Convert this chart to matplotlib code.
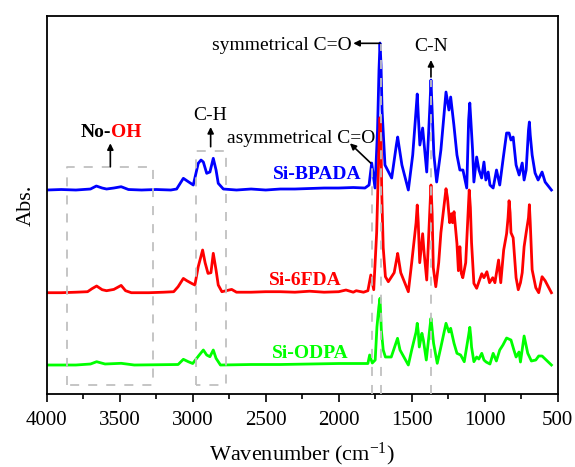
import matplotlib
matplotlib.use('Agg')
import matplotlib.pyplot as plt

plt.rcParams['font.family'] = ['Liberation Serif', 'DejaVu Serif']
plt.rcParams['mathtext.default'] = 'regular'

# ---------------- data (arbitrary absorbance units) ----------------
bpada_wn = [4000, 3900, 3800, 3700, 3660, 3620, 3590, 3540, 3490, 3440,
            3350, 3250, 3150, 3110, 3064, 3030, 2996, 2962, 2943, 2927,
            2904, 2882, 2859, 2840, 2825, 2790, 2700, 2600, 2500, 2400,
            2300, 2200, 2100, 2000, 1900, 1820, 1792, 1774, 1751, 1734,
            1724, 1717, 1710, 1703, 1683, 1637, 1605, 1596, 1588, 1567,
            1523, 1493, 1470, 1462, 1455, 1444, 1425, 1397, 1375, 1368,
            1360, 1348, 1329, 1300, 1265, 1245, 1233, 1211, 1190, 1170,
            1149, 1123, 1110, 1102, 1095, 1083, 1074, 1055, 1039, 1021,
            1005, 992, 976, 964, 942, 919, 897, 873, 850, 833,
            820, 805, 785, 764, 743, 730, 716, 700, 694, 688,
            675, 655, 634, 607, 586, 543]
bpada_abs = [0, 0.5, 0, 1, 4, 2, 1, 2, 3.3, 0.5,
             0, 0.5, 0, 1, 11.7, 8.3, 5, 26.7, 30, 28,
             16.7, 18, 31.7, 20, 6.7, 1, 0, 1, 0, 1,
             1, 1.5, 2, 2, 2.5, 2, 5, 27, 2, 60,
             120, 147, 125, 80, 25, 12, 45, 53, 45, 25,
             0, 35, 80, 96, 75, 45, 62, 18, 85, 110,
             80, 35, 8, 40, 98, 80, 93, 65, 35, 20,
             20, 2, 70, 87, 70, 40, 8, 33, 20, 12,
             28, 10, 18, 5, 2, 20, 5, 32, 57, 57,
             50, 53, 25, 15, 27, 10, 20, 60, 68, 55,
             35, 17, 10, 18, 8, 0]

fda6_wn = [4000, 3900, 3800, 3720, 3690, 3658, 3620, 3590, 3540, 3490,
           3460, 3420, 3300, 3200, 3130, 3100, 3064, 3040, 3007, 2985,
           2962, 2932, 2915, 2895, 2875, 2859, 2840, 2825, 2800, 2733,
           2700, 2600, 2500, 2400, 2300, 2200, 2100, 2000, 1950, 1900,
           1880, 1830, 1800, 1780, 1760, 1740, 1725, 1717, 1710, 1705,
           1695, 1680, 1660, 1620, 1605, 1596, 1588, 1575, 1523, 1500,
           1470, 1462, 1455, 1445, 1425, 1415, 1397, 1375, 1368, 1360,
           1352, 1335, 1315, 1300, 1265, 1255, 1240, 1228, 1220, 1210,
           1190, 1180, 1170, 1160, 1150, 1130, 1112, 1106, 1098, 1090,
           1074, 1055, 1020, 1005, 985, 967, 945, 930, 905, 890,
           870, 850, 840, 833, 826, 820, 805, 785, 770, 755,
           743, 730, 716, 700, 694, 688, 675, 650, 630, 607,
           586, 543]
fda6_abs = [0, 0, 0.5, 1, 4, 6.7, 3, 2, 3.3, 7.3,
            2, 0, 0, 0.5, 1, 6, 14.3, 12, 9.3, 7.7,
            26, 42.7, 30, 19.3, 20, 39.4, 22.7, 7.7, 1, 3.3,
            0.5, 0.5, 1, 1, 0.5, 1.5, 0.5, 1, 2.7, 0.5,
            2, 0.5, 2, 17.7, 3, 60, 140, 175, 150, 100,
            45, 16, 11, 20, 32, 39.3, 32, 20, 1, 30,
            70, 87.7, 70, 30, 59, 40, 12.7, 85, 107.7, 80,
            25, 6, 30, 60, 104, 95, 70, 79, 70, 81,
            49, 22, 46, 19.3, 15, 30, 85, 102.7, 85, 50,
            9.3, 4.4, 19, 15, 21, 10, 15, 10, 32.7, 10,
            42.7, 59, 75, 92, 80, 60, 55, 15, 3, 10,
            20, 46, 60, 75, 88, 70, 23, 5, 0, 16,
            12, 0]

odpa_wn = [4000, 3800, 3700, 3658, 3600, 3490, 3400, 3100, 3064, 3030,
           3000, 2955, 2927, 2904, 2882, 2859, 2840, 2810, 2600, 2400,
           2200, 2000, 1850, 1800, 1788, 1770, 1750, 1738, 1725, 1717,
           1708, 1695, 1680, 1640, 1597, 1580, 1523, 1500, 1470, 1462,
           1455, 1448, 1430, 1420, 1400, 1375, 1368, 1360, 1350, 1325,
           1300, 1265, 1245, 1233, 1210, 1190, 1165, 1140, 1110, 1102,
           1095, 1090, 1074, 1055, 1040, 1020, 1005, 990, 964, 942,
           920, 897, 875, 850, 820, 800, 785, 765, 755, 730,
           705, 680, 650, 630, 607, 543]
odpa_abs = [0, 0, 1, 3.3, 1, 1.7, 0, 0.5, 5.7, 3.3,
            1.5, 10, 15, 10, 8.3, 15, 6.7, 0, 0.5, 0.5,
            1, 1.5, 1.5, 1.5, 10, 2, 5, 38, 58, 66.7,
            35, 15, 8, 8, 26.7, 15, 0, 15, 33, 41.7,
            33, 18, 31.7, 25, 5, 38, 46.7, 36, 21.7, 1.7,
            18, 41.7, 33, 36.7, 21.7, 11.7, 10, 3.3, 30, 37.7,
            28, 18, 3.3, 8, 6, 11.7, 5, 3, 1, 11.7,
            4, 15, 20, 27, 25, 15, 8, 13, 3, 29,
            11.7, 4, 5, 9, 9, 0]

spectra = [('Si-BPADA', bpada_wn, bpada_abs, '#0000ff', 204),
           ('Si-6FDA', fda6_wn, fda6_abs, '#ff0000', 101.3),
           ('Si-ODPA', odpa_wn, odpa_abs, '#00ff00', 29)]

# ---------------- plot ----------------
fig = plt.figure(figsize=(5.75, 4.67), dpi=100)
ax = fig.add_axes([0.0812, 0.1563, 0.8887, 0.8094])

for name, wn, a, c, off in spectra:
    ax.plot(wn, [v + off for v in a], color=c, lw=2.0, zorder=2)

# 标签
ax.text(2150, 15.5 + 204, 'Si-BPADA', color='#0000ff', fontsize=14, fontweight='bold', ha='center', va='center')
ax.text(2226, 12.3 + 101.3, 'Si-6FDA', color='#ff0000', fontsize=14, fontweight='bold', ha='center', va='center')
ax.text(2192, 11.7 + 29, 'Si-ODPA', color='#00ff00', fontsize=14, fontweight='bold', ha='center', va='center')

# 虚线框和虚线
gray = '#c0c0c0'
dash = dict(color=gray, lw=1.3, dashes=(5, 5), zorder=3)
ax.plot([3860, 3860, 3275, 3275, 3860], [9, 226.7, 226.7, 9, 9], **dash)
ax.plot([2977, 2977, 2774, 2774, 2977], [9, 243.3, 243.3, 9, 9], **dash)
ax.plot([1770, 1770], [0, 231], **dash)
ax.plot([1713, 1713], [0, 350], **dash)
ax.plot([1368, 1368], [0, 314], **dash)

# 注释
arr = dict(arrowstyle='-|>', color='k', lw=1.2, mutation_scale=9, shrinkA=0, shrinkB=0)
ax.annotate('', xy=(1900, 350.7), xytext=(1717, 350.7), arrowprops=arr)
ax.text(1911, 349, 'symmetrical C=O', fontsize=14, ha='right', va='center')
ax.annotate('', xy=(1368, 334), xytext=(1368, 317), arrowprops=arr)
ax.text(1368, 347.3, 'C-N', fontsize=14, ha='center', va='center')
ax.annotate('', xy=(1923, 250.7), xytext=(1781, 231), arrowprops=arr)
ax.text(1751, 255.7, 'asymmetrical C=O', fontsize=14, ha='right', va='center')
ax.annotate('', xy=(2877, 267), xytext=(2877, 247.3), arrowprops=arr)
ax.text(2881, 279, 'C-H', fontsize=14, ha='center', va='center')
ax.annotate('', xy=(3564, 250.7), xytext=(3564, 227.3), arrowprops=arr)
ax.text(3557, 261.3, 'No-', fontsize=14, fontweight='bold', ha='right', va='center')
ax.text(3557, 261.3, 'OH', fontsize=14, fontweight='bold', color='#ff0000', ha='left', va='center')

ax.set_xlim(4000, 500)
ax.set_ylim(0, 378)
ax.set_xticks([4000, 3500, 3000, 2500, 2000, 1500, 1000, 500])
ax.set_xticks([3750, 3250, 2750, 2250, 1750, 1250, 750], minor=True)
ax.set_yticks([])
ax.tick_params(axis='x', which='major', direction='out', length=6, width=1.2, labelsize=15, pad=6)
ax.tick_params(axis='x', which='minor', direction='out', length=3.5, width=1.2)
for s in ax.spines.values():
    s.set_linewidth(1.3)

ax.set_xlabel('Wavenumber (cm$^{-1}$)', fontsize=16, labelpad=8)
ax.set_ylabel('Abs.', fontsize=16, labelpad=8)

fig.savefig('out.png', dpi=100)
